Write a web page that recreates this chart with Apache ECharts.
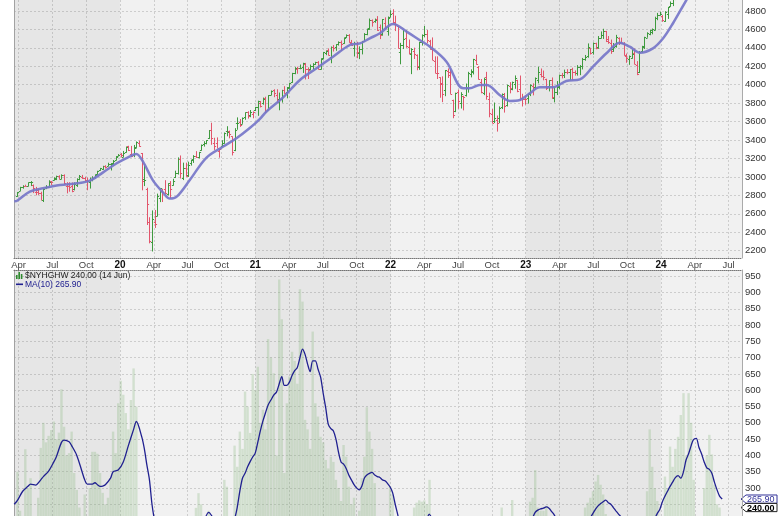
<!DOCTYPE html>
<html><head><meta charset="utf-8">
<script src="https://cdn.jsdelivr.net/npm/echarts@6/dist/echarts.min.js"></script>
<style>html,body{margin:0;padding:0;background:#fff}#c{width:780px;height:516px}</style>
</head><body><div id="c"></div>
<script>
// ---------- DATA ----------
const firstFriday = '2019-03-29';
// weekly S&P 500 bars [open, high, low, close]
const price2019 = [[2796,2836,2785,2834],[2848,2893,2848,2893],[2888,2910,2873,2907],[2905,2916,2898,2905],[2901,2940,2898,2940],
[2941,2955,2901,2946],[2908,2918,2825,2881],[2841,2892,2801,2860],[2841,2871,2805,2826],[2830,2840,2750,2752],
[2751,2876,2728,2873],[2886,2911,2868,2887],[2886,2964,2883,2950],[2952,2955,2913,2942],
[2971,2996,2962,2990],[2980,3014,2966,3014],[3014,3018,2975,2977],[2978,3028,2976,3026],
[3024,3028,2915,2932],[2898,2944,2822,2919],[2907,2943,2840,2889],[2898,2940,2834,2847],[2866,2941,2854,2926],
[2910,2985,2892,2979],[2980,3021,2964,3007],[2996,3022,2979,2992],[2984,3002,2952,2962],
[2967,2993,2856,2952],[2944,2993,2874,2970],[2966,3008,2953,2986],[2996,3028,2985,3023],
[3032,3067,3023,3067],[3078,3098,3066,3093],[3081,3121,3077,3120],[3124,3127,3091,3110],[3118,3154,3117,3141],
[3144,3150,3070,3146],[3141,3183,3124,3169],[3183,3226,3180,3221],[3227,3248,3226,3240]];
const price2020 = [[3247,3259,3212,3235],[3218,3282,3214,3265],[3274,3330,3264,3330],[3334,3338,3281,3295],[3247,3337,3214,3226],
[3235,3347,3214,3328],[3318,3385,3315,3380],[3370,3394,3328,3338],[3257,3260,2855,2954],
[2974,3137,2901,2972],[2864,2883,2479,2711],[2509,2563,2280,2305],[2290,2637,2192,2541],
[2515,2642,2447,2489],[2578,2819,2574,2790],[2776,2879,2727,2875],[2845,2871,2728,2837],
[2869,2965,2816,2831],[2815,2932,2798,2930],[2915,2955,2767,2864],[2913,2980,2906,2955],[3004,3068,2988,3044],
[3038,3212,3026,3194],[3199,3233,2984,3041],[2994,3155,2966,3098],[3094,3155,3005,3009],
[3018,3166,3000,3130],[3155,3187,3123,3185],[3192,3236,3152,3225],[3228,3280,3206,3216],[3219,3272,3201,3271],
[3289,3352,3285,3351],[3356,3387,3329,3373],[3369,3399,3354,3397],[3419,3509,3413,3508],
[3508,3588,3349,3427],[3371,3425,3293,3341],[3363,3429,3314,3319],[3285,3306,3209,3298],
[3337,3398,3324,3348],[3368,3482,3360,3477],[3500,3550,3441,3484],[3493,3502,3419,3465],[3441,3441,3233,3270],
[3296,3529,3280,3509],[3583,3646,3512,3585],[3601,3628,3543,3558],[3579,3645,3576,3638],
[3654,3700,3620,3699],[3705,3712,3633,3663],[3675,3726,3648,3709],[3684,3711,3636,3703],[3723,3760,3715,3756]];
const price2021 = [[3764,3827,3663,3825],[3803,3824,3754,3768],[3797,3861,3784,3841],[3857,3870,3694,3714],
[3731,3887,3725,3887],[3892,3938,3887,3935],[3939,3951,3865,3907],[3886,3951,3805,3811],
[3842,3915,3723,3842],[3844,3945,3806,3943],[3942,3984,3902,3913],[3916,3975,3853,3975],
[3969,4021,3937,4020],[4034,4129,4021,4129],[4123,4191,4114,4185],[4175,4195,4119,4180],[4186,4219,4168,4181],
[4192,4238,4128,4233],[4229,4237,4057,4174],[4169,4188,4062,4156],[4169,4219,4155,4204],
[4207,4234,4168,4230],[4230,4249,4215,4247],[4248,4256,4165,4166],[4174,4287,4165,4281],
[4285,4356,4275,4352],[4344,4372,4321,4370],[4373,4394,4318,4327],[4297,4415,4233,4412],[4410,4430,4360,4395],
[4407,4440,4368,4437],[4439,4470,4425,4468],[4462,4480,4367,4442],[4450,4513,4444,4509],
[4514,4546,4508,4535],[4535,4549,4456,4459],[4449,4486,4427,4433],[4402,4466,4306,4455],
[4450,4466,4288,4357],[4348,4416,4278,4391],[4386,4475,4329,4471],[4471,4560,4464,4545],[4553,4608,4537,4605],
[4610,4718,4595,4698],[4697,4708,4630,4683],[4689,4718,4672,4698],[4712,4744,4585,4595],
[4628,4653,4495,4538],[4549,4713,4532,4712],[4669,4731,4600,4621],[4587,4740,4532,4726],[4733,4808,4733,4766]];
const price2022 = [[4778,4819,4662,4677],[4655,4749,4582,4663],[4632,4632,4395,4398],[4357,4454,4222,4432],
[4431,4595,4387,4501],[4505,4590,4401,4419],[4412,4490,4329,4349],[4333,4396,4115,4385],
[4363,4402,4279,4329],[4323,4329,4157,4204],[4188,4465,4162,4463],[4462,4546,4425,4543],
[4541,4637,4516,4546],[4547,4593,4450,4488],[4474,4487,4381,4393],[4385,4513,4268,4272],[4255,4308,4126,4132],
[4130,4308,4062,4123],[4082,4081,3859,4024],[4013,4091,3811,3901],[3945,4160,3876,4158],
[4153,4177,4074,4109],[4135,4169,3900,3901],[3839,3838,3637,3675],[3716,3914,3703,3912],
[3921,3946,3739,3825],[3804,3919,3742,3899],[3880,3880,3722,3863],[3884,4013,3872,3962],[3966,4140,3914,4130],
[4113,4167,4080,4145],[4141,4281,4112,4280],[4270,4325,4218,4228],[4195,4203,4057,4058],
[4034,4062,3907,3924],[3910,4076,3887,4067],[4084,4140,3838,3873],[3843,3914,3647,3693],[3682,3737,3584,3586],
[3610,3807,3585,3640],[3618,3666,3492,3583],[3638,3765,3584,3753],[3755,3905,3736,3901],
[3881,3911,3698,3771],[3780,4001,3764,3993],[3982,4028,3907,3965],[3956,4034,3940,4026],
[4006,4101,3956,4072],[4053,4053,3919,3934],[3955,4100,3828,3852],[3853,3902,3764,3845],[3843,3878,3784,3840]];
const price2023 = [[3853,3906,3795,3895],[3911,4004,3877,3999],[3985,4015,3885,3973],[3979,4079,3949,4071],
[4051,4195,4015,4136],[4120,4176,4079,4090],[4097,4154,4048,4079],[4065,4065,3943,3970],
[3983,4049,3928,4046],[4055,4079,3847,3862],[3855,3971,3809,3917],[3918,4040,3888,3971],[3982,4110,3952,4109],
[4103,4128,4069,4105],[4110,4164,4073,4138],[4139,4169,4114,4134],[4134,4170,4049,4169],
[4167,4184,4048,4136],[4136,4155,4099,4124],[4127,4213,4099,4192],[4191,4213,4104,4205],
[4206,4291,4166,4282],[4283,4323,4260,4299],[4308,4448,4293,4410],[4396,4400,4328,4348],[4354,4458,4327,4450],
[4450,4456,4385,4399],[4404,4528,4390,4505],[4505,4578,4502,4536],[4543,4607,4497,4582],
[4584,4584,4463,4478],[4492,4528,4444,4464],[4458,4490,4335,4370],[4384,4452,4356,4406],
[4415,4541,4403,4516],[4511,4514,4431,4457],[4466,4511,4448,4450],[4454,4462,4316,4320],[4313,4338,4238,4288],
[4284,4317,4216,4309],[4290,4386,4283,4328],[4343,4393,4223,4224],[4217,4256,4104,4117],
[4139,4366,4128,4358],[4364,4422,4346,4415],[4407,4520,4388,4514],[4512,4569,4510,4559],
[4554,4595,4537,4595],[4576,4610,4547,4604],[4593,4738,4590,4719],[4725,4779,4700,4755],[4759,4793,4751,4770]];
const price2024 = [[4745,4755,4682,4697],[4690,4798,4682,4784],[4772,4843,4714,4840],[4856,4903,4845,4891],
[4888,4976,4853,4959],[4957,5030,4918,5027],[5027,5048,4920,5006],[5000,5111,4946,5089],
[5093,5140,5057,5137],[5131,5190,5078,5124],[5112,5180,5104,5117],[5123,5262,5117,5234],[5219,5265,5204,5254],
[5257,5264,5146,5204],[5218,5230,5107,5123],[5149,5168,4954,4967],[4988,5114,4969,5100],
[5114,5139,5011,5128],[5142,5240,5127,5223],[5221,5325,5212,5303],[5311,5342,5257,5305],[5316,5315,5192,5278],
[5297,5375,5234,5347],[5350,5447,5338,5432]];

// weekly $NYHGHW values
const highs2019 = [350,230,200,419,300,330,210,190,270,423,500,440,460,478,504,450,470,603,488,400,
407,473,346,294,240,200,280,180,300,411,411,405,346,285,250,270,330,473,407,560];
const highs2020 = [629,586,530,480,570,667,550,180,60,40,15,5,3,4,10,20,18,30,40,35,60,90,180,80,90,60,
100,120,150,239,284,250,190,200,230,160,90,110,60,200,325,304,180,60,430,365,473,420,596,550,469,650,600];
const highs2021 = [672,500,540,480,757,700,652,400,940,818,346,560,642,718,690,620,910,872,509,480,420,780,
560,519,457,440,386,360,396,380,325,300,260,432,396,304,250,270,180,230,330,396,548,473,420,315,150,90,180,200,150,304];
const highs2022 = [280,120,60,40,90,120,100,150,240,255,262,258,262,250,325,150,80,60,20,25,40,50,30,10,20,30,
35,30,50,90,80,120,110,60,30,40,30,15,10,20,15,40,240,90,160,150,263,180,120,90,150,150];
const highs2023 = [200,258,270,355,240,230,230,245,150,100,60,70,120,140,150,130,140,100,80,110,90,120,240,255,
270,290,320,340,310,280,220,120,90,150,110,100,60,40,40,50,30,20,90,80,160,190,290,480,365,300,260,150];
const highs2024 = [200,335,300,427,365,420,457,524,591,400,591,500,325,150,60,90,300,400,463,403,310,250,240];

// moving-average lines [date, value]
const priceMA = [['2019-03-20',2735],['2019-03-29',2745],['2019-05-01',2840],['2019-06-06',2877],['2019-07-22',2913],['2019-09-06',2931],
['2019-10-11',2960],['2019-11-16',3050],['2019-12-23',3148],['2020-01-23',3213],['2020-02-14',3249],['2020-03-03',3160],
['2020-03-30',2960],['2020-04-26',2830],['2020-05-14',2765],['2020-06-02',2786],['2020-07-07',2967],['2020-08-22',3210],
['2020-10-06',3330],['2020-11-11',3419],['2020-12-17',3530],['2021-01-14',3630],['2021-02-01',3710],['2021-03-15',3860],
['2021-04-30',4052],['2021-06-14',4178],['2021-07-29',4304],['2021-09-13',4431],['2021-10-10',4449],['2021-11-06',4504],
['2021-12-03',4558],['2022-01-08',4659],['2022-02-13',4576],['2022-03-19',4485],['2022-04-16',4413],['2022-05-31',4250],
['2022-07-15',3961],['2022-08-02',3961],['2022-08-29',3997],['2022-09-17',3997],['2022-10-22',3889],['2022-11-18',3825],
['2022-12-16',3835],['2023-01-12',3907],['2023-02-08',3972],['2023-03-14',3972],['2023-04-19',4041],['2023-05-26',4058],
['2023-06-30',4196],['2023-08-06',4341],['2023-09-11',4456],['2023-10-08',4413],['2023-11-05',4348],['2023-12-10',4395],
['2024-01-07',4504],['2024-02-03',4667],['2024-03-09',4919],['2024-03-16',4960]];
const highsMA = [['2019-03-20',250],['2019-03-29',262],['2019-04-12',290],['2019-04-26',305],['2019-05-03',312],['2019-05-17',309],
['2019-05-31',325],['2019-06-07',335],['2019-06-21',352],['2019-07-05',380],['2019-07-12',396],['2019-07-26',440],
['2019-08-02',447],['2019-08-16',442],['2019-08-23',430],['2019-09-06',400],['2019-09-20',350],['2019-09-27',325],
['2019-10-04',312],['2019-10-18',312],['2019-10-25',316],['2019-11-01',310],['2019-11-08',305],['2019-11-15',306],
['2019-11-22',310],['2019-12-06',330],['2019-12-13',350],['2019-12-27',355],['2020-01-10',380],['2020-01-24',430],
['2020-02-07',480],['2020-02-14',504],['2020-02-28',457],['2020-03-06',420],['2020-03-13',370],['2020-03-20',325],
['2020-03-27',250],['2020-04-03',200],['2020-04-17',120],['2020-05-01',60],['2020-06-05',50],['2020-07-03',80],
['2020-08-07',170],['2020-08-28',225],['2020-09-18',190],['2020-10-09',160],['2020-10-30',190],['2020-11-06',205],
['2020-11-13',240],['2020-11-20',290],['2020-11-27',330],['2020-12-04',345],['2020-12-11',365],['2020-12-18',381],
['2020-12-25',395],['2021-01-01',407],['2021-01-08',440],['2021-01-15',475],['2021-01-22',505],['2021-01-29',530],
['2021-02-05',555],['2021-02-12',570],['2021-02-19',585],['2021-02-26',595],['2021-03-05',620],['2021-03-12',642],
['2021-03-19',615],['2021-03-26',615],['2021-04-02',625],['2021-04-09',645],['2021-04-16',660],['2021-04-23',670],
['2021-04-30',700],['2021-05-07',726],['2021-05-14',710],['2021-05-21',680],['2021-05-28',657],['2021-06-04',690],
['2021-06-11',690],['2021-06-18',665],['2021-06-25',640],['2021-07-02',590],['2021-07-09',545],['2021-07-16',495],
['2021-07-23',482],['2021-07-30',475],['2021-08-06',450],['2021-08-13',410],['2021-08-20',380],['2021-08-27',373],
['2021-09-03',360],['2021-09-10',340],['2021-09-17',325],['2021-09-24',310],['2021-10-01',300],['2021-10-08',294],
['2021-10-15',305],['2021-10-22',330],['2021-10-29',340],['2021-11-05',345],['2021-11-12',348],['2021-11-19',340],
['2021-11-26',335],['2021-12-03',332],['2021-12-10',325],['2021-12-17',322],['2021-12-23',315],['2021-12-31',303],
['2022-01-07',285],['2022-01-14',250],['2022-01-21',218],['2022-01-28',185],['2022-02-18',130],['2022-03-18',170],
['2022-04-08',205],['2022-04-14',220],['2022-04-22',205],['2022-05-13',160],['2022-06-17',80],['2022-08-19',60],
['2022-10-14',40],['2022-11-25',120],['2022-12-30',160],['2023-01-13',190],['2023-01-27',225],['2023-02-03',232],
['2023-02-10',236],['2023-02-17',238],['2023-02-24',242],['2023-03-03',238],['2023-03-10',228],['2023-03-17',218],
['2023-03-31',190],['2023-05-05',140],['2023-06-02',160],['2023-06-16',195],['2023-06-30',222],['2023-07-07',235],
['2023-07-14',245],['2023-07-21',252],['2023-07-28',258],['2023-08-04',263],['2023-08-11',255],['2023-08-18',250],
['2023-08-25',240],['2023-09-01',230],['2023-09-08',220],['2023-09-15',210],['2023-10-13',130],['2023-11-03',90],
['2023-11-17',130],['2023-12-08',190],['2023-12-22',222],['2023-12-29',235],['2024-01-05',258],['2024-01-12',275],
['2024-01-19',290],['2024-01-26',305],['2024-02-02',318],['2024-02-09',332],['2024-02-16',338],['2024-02-23',330],
['2024-03-01',350],['2024-03-08',386],['2024-03-15',405],['2024-03-22',430],['2024-03-28',448],['2024-04-05',452],
['2024-04-12',425],['2024-04-19',405],['2024-04-26',380],['2024-05-03',362],['2024-05-10',357],['2024-05-17',345],
['2024-05-24',318],['2024-05-31',295],['2024-06-07',275],['2024-06-14',265.9]];

const priceTicks = [2200,2400,2600,2800,3000,3200,3400,3600,3800,4000,4200,4400,4600,4800];
const highsTicks = [300,350,400,450,500,550,600,650,700,750,800,850,900,950];
const monthNames = ['Jan','Feb','Mar','Apr','May','Jun','Jul','Aug','Sep','Oct','Nov','Dec'];
const shadedYears = [2019, 2021, 2023];
const symbolName = '$NYHGHW';
const lastHighs = 240.00, lastHighsMA = 265.90, lastDateLabel = '14 Jun', maPeriod = 10;

// ---------- HELPERS ----------
function monthIndex(y, mo, d){ // months since Jan 2020, fractional
  const dim = new Date(Date.UTC(y, mo + 1, 0)).getUTCDate();
  return (y - 2020) * 12 + mo + (d - 1) / dim;
}
function mFromStr(s){ const p = s.split('-').map(Number); return monthIndex(p[0], p[1]-1, p[2]); }
function mFromDate(dt){ return monthIndex(dt.getUTCFullYear(), dt.getUTCMonth(), dt.getUTCDate()); }

const ohlc = [].concat(price2019, price2020, price2021, price2022, price2023, price2024);
const highs = [].concat(highs2019, highs2020, highs2021, highs2022, highs2023, highs2024);
const fp = firstFriday.split('-').map(Number);
const t0 = Date.UTC(fp[0], fp[1]-1, fp[2]);
const weekM = ohlc.map((_, i) => mFromDate(new Date(t0 + i * 7 * 86400000)));

const ohlcData = ohlc.map((b, i) => {
  const prev = i > 0 ? ohlc[i-1][3] : b[0];
  return [weekM[i], b[0], b[1], b[2], b[3], b[3] >= prev ? 1 : 0];
});
const highsData = highs.map((v, i) => [weekM[i], v]);
const priceMAData = priceMA.map(p => [mFromStr(p[0]), p[1]]);
const highsMAData = highsMA.map(p => [mFromStr(p[0]), p[1]]);

const X_MIN = -9.405, X_MAX = 55.19;
const HI_MIN = 214, HI_MAX = 969;
const quarterTicks = []; for (let q = -9; q <= 54; q += 3) quarterTicks.push(q);
const bandData = shadedYears.map(y => [{xAxis: Math.max(X_MIN, (y-2020)*12)}, {xAxis: Math.min(X_MAX, (y-2019)*12)}]);

const FONT = 'Liberation Sans, Arial, sans-serif';
const GREEN = '#3f9a3f', RED = '#e2566c';
const gridLine = {show: true, lineStyle: {color: '#cdcdcd', type: [2, 2], width: 1}};
const plainNum = v => String(v);

function qLabel(v){
  const r = Math.round(v);
  const mm = ((r % 12) + 12) % 12;
  if (mm === 0) return '{yr|' + String(2020 + Math.floor(r / 12)).slice(2) + '}';
  return monthNames[mm];
}

const chart = echarts.init(document.getElementById('c'), null, {renderer: 'canvas'});
const option = {
  animation: false,
  backgroundColor: '#ffffff',
  grid: [
    {left: 14, right: 38, top: 0, height: 258, show: true, backgroundColor: '#f1f1f1', borderWidth: 0},
    {left: 14, right: 38, top: 270, bottom: 0, show: true, backgroundColor: '#f1f1f1', borderWidth: 0}
  ],
  xAxis: [
    {type: 'value', gridIndex: 0, min: X_MIN, max: X_MAX,
     axisLine: {show: true, onZero: false, lineStyle: {color: '#777', type: 'dotted', width: 1}},
     axisTick: {show: false, customValues: quarterTicks},
     axisLabel: {customValues: quarterTicks, formatter: qLabel, margin: 2, fontSize: 9.5, color: '#444', fontFamily: FONT,
       rich: {yr: {fontWeight: 'bold', color: '#111', fontSize: 10, fontFamily: FONT}}},
     splitLine: gridLine},
    {type: 'value', gridIndex: 1, min: X_MIN, max: X_MAX, position: 'top',
     axisLine: {show: true, onZero: false, lineStyle: {color: '#777', type: 'dotted', width: 1}},
     axisTick: {show: false, customValues: quarterTicks},
     axisLabel: {show: false},
     splitLine: gridLine}
  ],
  yAxis: [
    {type: 'value', gridIndex: 0, position: 'right', min: 2121, max: 4919,
     axisLine: {show: true, onZero: false, lineStyle: {color: '#aaa'}},
     axisTick: {show: false, customValues: priceTicks},
     axisLabel: {customValues: priceTicks, formatter: plainNum, margin: 3, fontSize: 9.5, color: '#333', fontFamily: FONT},
     splitLine: gridLine},
    {type: 'value', gridIndex: 0, position: 'left', min: 2121, max: 4919,
     axisLine: {show: true, onZero: false, lineStyle: {color: '#aaa'}},
     axisTick: {show: false}, axisLabel: {show: false}, splitLine: {show: false}},
    {type: 'value', gridIndex: 1, position: 'right', min: HI_MIN, max: HI_MAX,
     axisLine: {show: true, onZero: false, lineStyle: {color: '#aaa'}},
     axisTick: {show: false, customValues: [250].concat(highsTicks)},
     axisLabel: {customValues: highsTicks, formatter: plainNum, margin: 3, fontSize: 9.5, color: '#333', fontFamily: FONT},
     splitLine: gridLine},
    {type: 'value', gridIndex: 1, position: 'left', min: HI_MIN, max: HI_MAX,
     axisLine: {show: true, onZero: false, lineStyle: {color: '#aaa'}},
     axisTick: {show: false}, axisLabel: {show: false}, splitLine: {show: false}}
  ],
  series: [
    {type: 'custom', name: 'bars', xAxisIndex: 0, yAxisIndex: 0, clip: true, z: 3,
     data: ohlcData, encode: {x: 0, y: [1, 2, 3, 4]},
     markArea: {silent: true, itemStyle: {color: 'rgba(0,0,0,0.045)'}, data: bandData},
     renderItem: function(params, api){
       const x = api.value(0);
       const pO = api.coord([x, api.value(1)]), pH = api.coord([x, api.value(2)]);
       const pL = api.coord([x, api.value(3)]), pC = api.coord([x, api.value(4)]);
       const col = api.value(5) > 0 ? GREEN : RED;
       const cx = Math.round(pH[0]) + 0.5;
       return {type: 'group', children: [
         {type: 'line', shape: {x1: cx, y1: pH[1], x2: cx, y2: pL[1]}, style: {stroke: col, lineWidth: 1}},
         {type: 'line', shape: {x1: cx - 1.6, y1: Math.round(pO[1]) + 0.5, x2: cx, y2: Math.round(pO[1]) + 0.5}, style: {stroke: col, lineWidth: 1}},
         {type: 'line', shape: {x1: cx, y1: Math.round(pC[1]) + 0.5, x2: cx + 1.6, y2: Math.round(pC[1]) + 0.5}, style: {stroke: col, lineWidth: 1}}
       ]};
     }},
    {type: 'line', name: 'MA', xAxisIndex: 0, yAxisIndex: 0, data: priceMAData, smooth: 0.35, showSymbol: false,
     symbol: 'none', clip: true, z: 4, lineStyle: {color: '#7676c9', width: 2.5, opacity: 0.92}},
    {type: 'bar', name: symbolName, xAxisIndex: 1, yAxisIndex: 2, data: highsData, barWidth: 2.4, clip: true, z: 2,
     itemStyle: {color: 'rgba(140,185,130,0.30)'},
     markArea: {silent: true, itemStyle: {color: 'rgba(0,0,0,0.045)'}, data: bandData}},
    {type: 'line', name: 'MA(10)', xAxisIndex: 1, yAxisIndex: 2, data: highsMAData, smooth: 0.3, showSymbol: false,
     symbol: 'none', clip: true, z: 4, lineStyle: {color: '#202090', width: 1.3}}
  ]
};
chart.setOption(option);

// legend + last-value tags (positions taken from the chart's own scales)
const lastM = weekM[weekM.length - 1];
const finder = {xAxisIndex: 1, yAxisIndex: 2};
const yLastMA = chart.convertToPixel(finder, [lastM, lastHighsMA])[1];
const yLast = chart.convertToPixel(finder, [lastM, lastHighs])[1];
const xRight = chart.convertToPixel(finder, [X_MAX, HI_MIN])[0];
const gTop = chart.convertToPixel(finder, [X_MIN, HI_MAX]);
function tag(y, txt, color, bold){
  return {type: 'group', z: 100, children: [
    {type: 'polygon', shape: {points: [[xRight - 1, y], [xRight + 4, y - 4.1], [xRight + 35, y - 4.1], [xRight + 35, y + 4.1], [xRight + 4, y + 4.1]]},
     style: {fill: '#fff', stroke: bold ? '#222' : '#333399', lineWidth: 1}},
    {type: 'text', style: {x: xRight + 5, y: y + 0.5, text: txt, fill: color, font: (bold ? 'bold ' : '') + '9px ' + FONT, verticalAlign: 'middle', align: 'left'}}
  ]};
}
const lx = gTop[0] + 2, ly = gTop[1];
chart.setOption({graphic: [
  {type: 'rect', shape: {x: lx, y: ly + 5, width: 1.6, height: 4}, style: {fill: '#2f8a2f'}, z: 100},
  {type: 'rect', shape: {x: lx + 2.4, y: ly + 2, width: 1.6, height: 7}, style: {fill: '#2f8a2f'}, z: 100},
  {type: 'rect', shape: {x: lx + 4.8, y: ly + 4, width: 1.6, height: 5}, style: {fill: '#2f8a2f'}, z: 100},
  {type: 'text', z: 100, style: {x: lx + 9, y: ly + 5.5, text: symbolName + ' ' + lastHighs.toFixed(2) + ' (' + lastDateLabel + ')',
    fill: '#222', font: '8.5px ' + FONT, verticalAlign: 'middle'}},
  {type: 'rect', shape: {x: lx, y: ly + 13.5, width: 7, height: 1.6}, style: {fill: '#202090'}, z: 100},
  {type: 'text', z: 100, style: {x: lx + 9, y: ly + 14.5, text: 'MA(' + maPeriod + ') ' + lastHighsMA.toFixed(2),
    fill: '#202090', font: '8.5px ' + FONT, verticalAlign: 'middle'}},
  tag(yLastMA, lastHighsMA.toFixed(2), '#333399', false),
  tag(yLast, lastHighs.toFixed(2), '#000', true)
]});
</script></body></html>
